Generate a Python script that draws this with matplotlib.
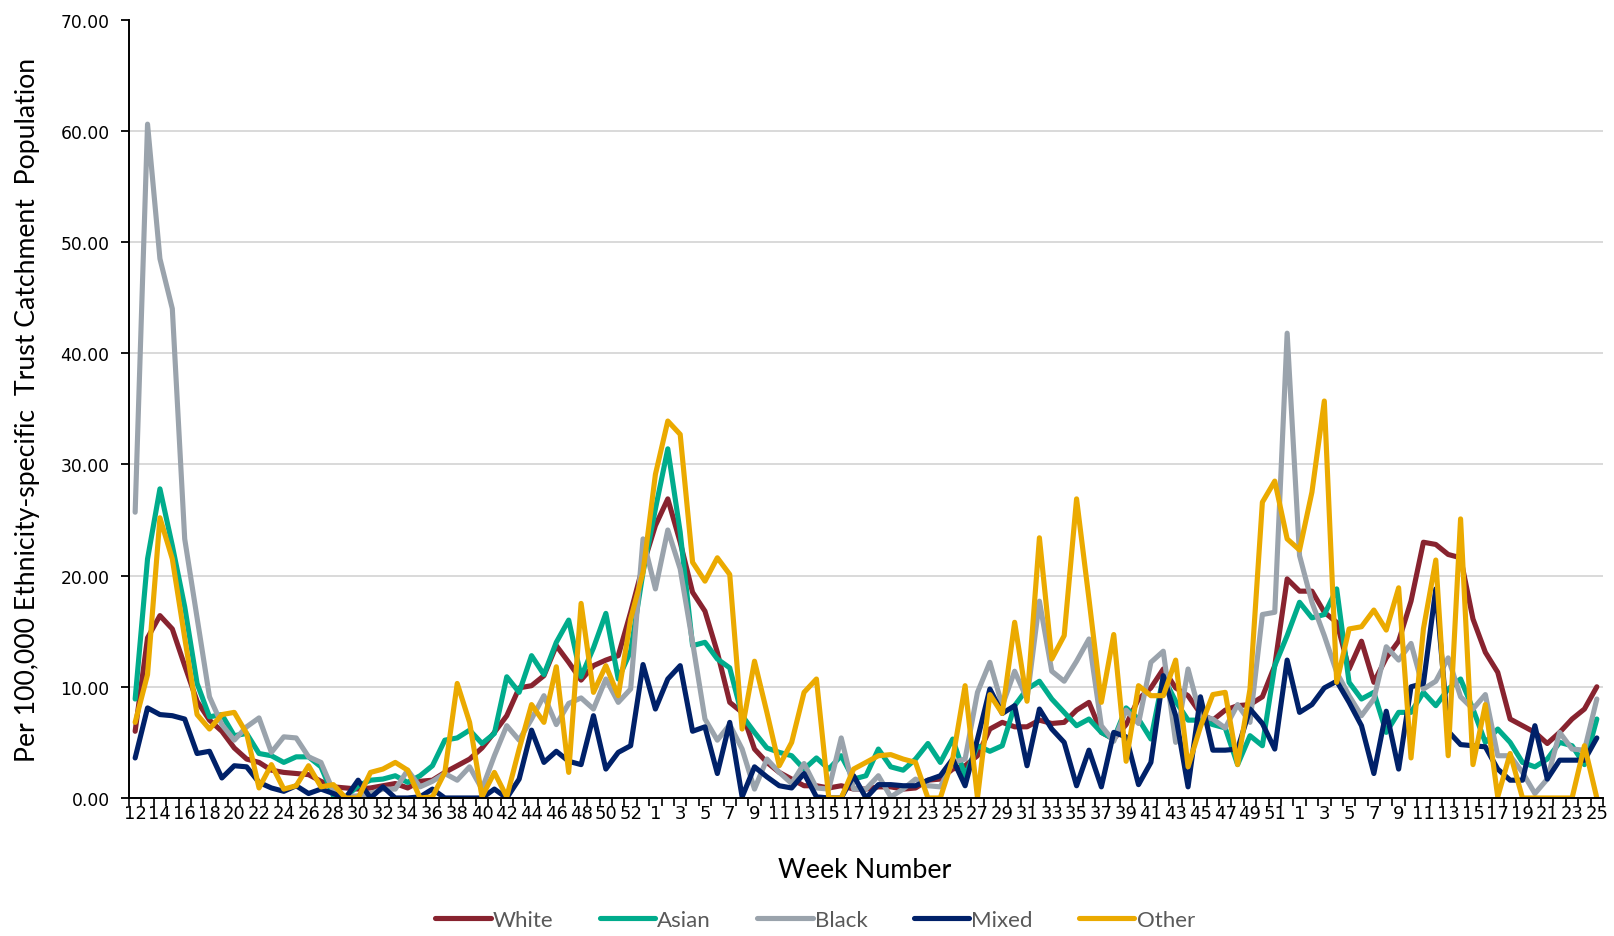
import matplotlib
matplotlib.use("Agg")
import matplotlib.pyplot as plt
import numpy as np

# Week numbers along the category axis (2020 wk12-53, 2021 wk1-52, 2022 wk1-25)
weeks = list(range(12, 54)) + list(range(1, 53)) + list(range(1, 26))

white = [
    6.0, 14.4, 16.4, 15.2, 11.9, 8.7, 7.0, 6.0, 4.5, 3.5,
    3.2, 2.5, 2.3, 2.2, 2.1, 1.5, 1.0, 0.9, 0.8, 0.9,
    1.1, 1.3, 0.9, 1.5, 1.6, 2.3, 2.9, 3.5, 4.5, 5.9,
    7.4, 9.9, 10.1, 11.0, 13.7, 12.2, 10.6, 11.9, 12.4, 12.8,
    16.7, 20.9, 24.5, 26.9, 23.0, 18.5, 16.8, 13.1, 8.6, 7.7,
    4.4, 3.2, 2.3, 1.7, 1.1, 1.1, 0.9, 1.1, 0.8, 0.8,
    1.0, 1.0, 0.8, 0.9, 1.6, 1.7, 2.6, 2.9, 3.8, 6.2,
    6.8, 6.4, 6.4, 7.0, 6.7, 6.8, 7.9, 8.6, 5.9, 5.3,
    6.6, 8.9, 9.9, 11.6, 9.9, 9.2, 7.6, 7.0, 7.9, 8.3,
    8.4, 9.1, 11.9, 19.7, 18.6, 18.6, 16.7, 15.8, 11.6, 14.1,
    10.4, 12.6, 14.1, 17.7, 23.0, 22.8, 21.9, 21.6, 16.1, 13.1,
    11.3, 7.1, 6.5, 5.9, 4.9, 5.9, 7.1, 8.0, 10.0,
]

asian = [
    8.9, 21.5, 27.8, 22.7, 17.2, 10.3, 7.3, 7.5, 5.6, 5.8,
    4.0, 3.8, 3.2, 3.7, 3.7, 2.8, 0.2, 0.1, 1.1, 1.6,
    1.7, 2.0, 1.4, 2.0, 2.9, 5.2, 5.4, 6.1, 4.9, 5.8,
    10.9, 9.5, 12.8, 11.1, 14.0, 16.0, 10.9, 13.5, 16.6, 10.7,
    13.2, 20.3, 26.0, 31.4, 23.9, 13.7, 14.0, 12.5, 11.7, 7.4,
    5.9, 4.5, 4.1, 3.8, 2.6, 3.6, 2.6, 3.8, 1.7, 2.0,
    4.4, 2.8, 2.5, 3.5, 4.9, 3.2, 5.3, 2.0, 4.7, 4.2,
    4.7, 8.3, 9.8, 10.5, 8.9, 7.7, 6.5, 7.1, 5.9, 5.3,
    8.1, 7.1, 5.3, 10.9, 8.7, 7.0, 7.0, 6.6, 6.3, 3.0,
    5.6, 4.7, 11.9, 14.6, 17.6, 16.2, 16.5, 18.8, 10.4, 8.9,
    9.5, 5.9, 7.7, 7.7, 9.5, 8.3, 9.8, 10.7, 8.0, 5.0,
    6.2, 5.0, 3.2, 2.8, 3.5, 5.0, 4.7, 3.0, 7.1,
]

black = [
    25.7, 60.6, 48.5, 44.0, 23.3, 16.2, 9.1, 6.6, 5.2, 6.4,
    7.2, 4.1, 5.5, 5.4, 3.7, 3.2, 0.6, 0.1, 0.2, 0.4,
    0.8, 0.8, 2.5, 1.0, 1.5, 2.2, 1.6, 2.8, 0.8, 3.8,
    6.5, 5.2, 7.1, 9.2, 6.6, 8.5, 9.0, 8.0, 10.7, 8.6,
    9.8, 23.3, 18.8, 24.1, 20.6, 14.0, 7.1, 5.2, 6.6, 4.4,
    0.8, 3.5, 2.3, 1.3, 3.1, 0.9, 0.8, 5.4, 0.8, 0.8,
    2.0, 0.1, 0.8, 1.7, 1.1, 1.0, 3.2, 3.5, 9.5, 12.2,
    8.3, 11.4, 8.9, 17.7, 11.4, 10.5, 12.3, 14.3, 6.5, 5.1,
    7.9, 6.7, 12.2, 13.2, 5.0, 11.6, 7.4, 7.1, 6.3, 8.4,
    6.8, 16.5, 16.7, 41.8, 21.8, 17.6, 14.6, 11.3, 9.2, 7.4,
    8.9, 13.6, 12.4, 13.9, 9.8, 10.5, 12.6, 9.1, 8.0, 9.3,
    3.8, 3.8, 2.3, 0.4, 1.7, 5.9, 4.4, 4.3, 8.9,
]

mixed = [
    3.6, 8.1, 7.5, 7.4, 7.1, 4.0, 4.2, 1.8, 2.9, 2.8,
    1.4, 0.9, 0.6, 1.1, 0.4, 0.8, 0.4, 0.0, 1.6, 0.0,
    1.0, 0.0, 0.0, 0.1, 0.8, 0.0, 0.0, 0.0, 0.0, 0.8,
    0.0, 1.7, 6.1, 3.2, 4.2, 3.3, 3.0, 7.4, 2.6, 4.1,
    4.7, 12.0, 8.0, 10.7, 11.9, 6.0, 6.4, 2.2, 6.8, 0.1,
    2.8, 1.9, 1.1, 0.9, 2.2, 0.1, 0.0, 0.0, 2.0, 0.0,
    1.2, 1.2, 1.1, 1.1, 1.6, 2.0, 3.5, 1.1, 5.3, 9.8,
    7.6, 8.3, 2.9, 8.0, 6.2, 5.0, 1.1, 4.3, 1.0, 5.9,
    5.5, 1.2, 3.2, 11.0, 7.4, 1.0, 9.1, 4.3, 4.3, 4.4,
    8.0, 6.7, 4.4, 12.4, 7.7, 8.4, 9.9, 10.5, 8.6, 6.5,
    2.2, 7.8, 2.6, 10.0, 10.3, 18.8, 6.0, 4.8, 4.7, 4.6,
    2.6, 1.6, 1.6, 6.5, 1.7, 3.4, 3.4, 3.4, 5.4,
]

other = [
    6.8, 11.1, 25.2, 21.5, 14.4, 7.5, 6.2, 7.5, 7.7, 5.8,
    0.9, 3.0, 0.8, 1.1, 2.9, 1.0, 1.2, 0.0, 0.0, 2.3,
    2.6, 3.2, 2.5, 0.0, 0.1, 2.3, 10.3, 6.8, 0.1, 2.3,
    0.1, 4.4, 8.4, 6.8, 11.8, 2.3, 17.5, 9.5, 11.9, 9.2,
    16.1, 20.3, 29.1, 33.9, 32.7, 21.2, 19.5, 21.6, 20.1, 6.2,
    12.3, 7.7, 2.9, 5.0, 9.5, 10.7, 0.0, 0.0, 2.6, 3.2,
    3.8, 3.9, 3.5, 3.2, 0.0, 0.0, 3.5, 10.1, 0.0, 9.3,
    7.6, 15.8, 8.7, 23.4, 12.5, 14.6, 26.9, 17.9, 8.6, 14.7,
    3.3, 10.1, 9.2, 9.2, 12.4, 2.8, 6.4, 9.3, 9.5, 3.0,
    9.8, 26.6, 28.5, 23.3, 22.3, 27.5, 35.7, 10.4, 15.2, 15.4,
    16.9, 15.1, 18.9, 3.6, 15.2, 21.4, 3.8, 25.1, 3.0, 8.4,
    0.1, 4.0, 0.0, 0.0, 0.0, 0.0, 0.0, 4.7, 0.0,
]

series_names = ["White", "Asian", "Black", "Mixed", "Other"]
series_values = [white, asian, black, mixed, other]
series_colors = ["#88232F", "#00AC8C", "#9AA3AC", "#002169", "#EBAA00"]

label_font = ["Lato", "DejaVu Sans"]

fig = plt.figure(figsize=(16.14, 9.37), dpi=100)
ax = fig.add_axes([0.0799, 0.1473, 0.9133, 0.8307])

n = len(weeks)
x = np.arange(n)
handles = []
for name, vals, col in zip(series_names, series_values, series_colors):
    (ln,) = ax.plot(x, vals, color=col, lw=3.7, label=name,
                    solid_joinstyle="round", solid_capstyle="round")
    handles.append(ln)

ax.set_xlim(-0.5, n - 0.5)
ax.set_ylim(0, 70)

yt = np.arange(0, 71, 10)
ax.set_yticks(yt)
ax.set_yticklabels([f"{v:.2f}" for v in yt])
ax.yaxis.grid(True, color="#D9D9D9", lw=1.4)
ax.set_axisbelow(True)
ax.yaxis.get_gridlines()[-1].set_visible(False)

major = x[::2]
ax.set_xticks(major)
ax.set_xticklabels([str(weeks[i]) for i in major])
ax.set_xticks(np.arange(-0.5, n, 1), minor=True)
ax.tick_params(axis="x", which="major", length=0, pad=4, labelsize=13)
ax.tick_params(axis="x", which="minor", length=6, width=1.2, direction="out")
ax.tick_params(axis="y", direction="out", length=6, width=1.3, pad=8, labelsize=12.3)

for s in ["top", "right"]:
    ax.spines[s].set_visible(False)
for s in ["left", "bottom"]:
    ax.spines[s].set_linewidth(1.4)
    ax.spines[s].set_color("black")

fig.text(0.0173, 0.5624,
         "Per 100,000 Ethnicity-specific  Trust Catchment  Population",
         rotation=90, ha="center", va="center", fontsize=19.2, family=label_font)
fig.text(0.536, 0.0715, "Week Number", ha="center", va="center",
         fontsize=19.4, family=label_font)

fig.legend(handles, series_names, loc="center", bbox_to_anchor=(0.505, 0.017),
           ncol=5, frameon=False, handlelength=2.5, handletextpad=0.1,
           columnspacing=2.07, prop={"family": label_font, "size": 16},
           labelcolor="#595959")

fig.savefig("out.png", dpi=100)
